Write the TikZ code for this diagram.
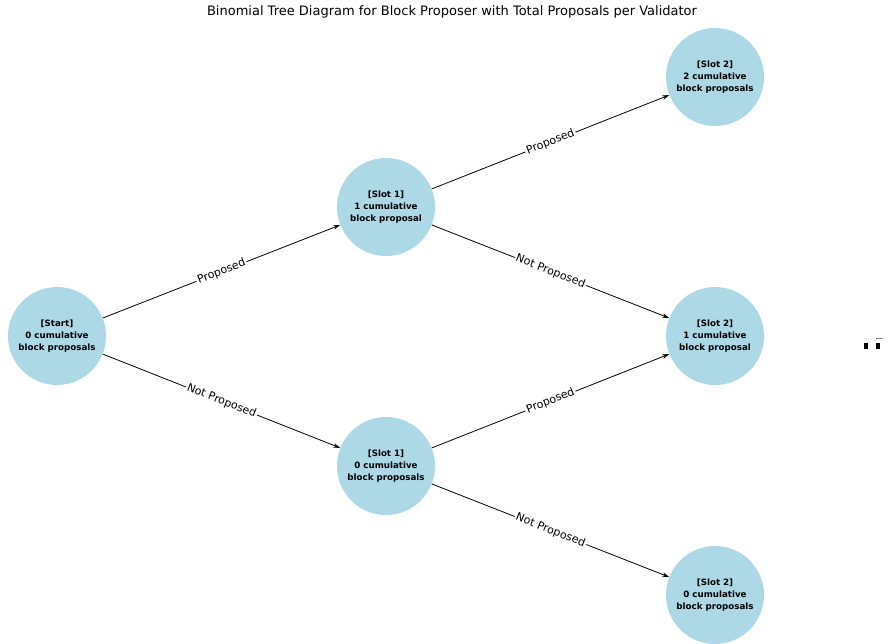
\documentclass[tikz,border=0pt]{standalone}
\usepackage{fontspec}
\setmainfont{DejaVu Sans}
\usetikzlibrary{arrows.meta}
\definecolor{nodeblue}{HTML}{ADD8E6}
\begin{document}
\begin{tikzpicture}[x=1pt,y=-1pt,
  state/.style={circle,fill=nodeblue,minimum size=98pt,inner sep=0pt,align=center,font=\bfseries\fontsize{8.7}{12}\selectfont},
  edge/.style={draw=black,line width=0.8pt,-{Stealth[length=7pt,width=4.5pt]}},
  elabel/.style={fill=white,inner sep=1.5pt,font=\fontsize{11}{13}\selectfont,sloped,midway}]
\useasboundingbox (0,0) rectangle (888,643);
\node[font=\fontsize{13}{15}\selectfont] (title) at (452,12) {Binomial Tree Diagram for Block Proposer with Total Proposals per Validator};
\node[state] (s0) at (57,336) {[Start]\\0 cumulative\\block proposals};
\node[state] (a1) at (386,207) {[Slot 1]\\1 cumulative\\block proposal};
\node[state] (b1) at (386,466) {[Slot 1]\\0 cumulative\\block proposals};
\node[state] (a2) at (715,77) {[Slot 2]\\2 cumulative\\block proposals};
\node[state] (b2) at (715,336) {[Slot 2]\\1 cumulative\\block proposal};
\node[state] (c2) at (715,595) {[Slot 2]\\0 cumulative\\block proposals};
\draw[edge] (s0) -- node[elabel] {Proposed} (a1);
\draw[edge] (s0) -- node[elabel] {Not Proposed} (b1);
\draw[edge] (a1) -- node[elabel] {Proposed} (a2);
\draw[edge] (a1) -- node[elabel] {Not Proposed} (b2);
\draw[edge] (b1) -- node[elabel] {Proposed} (b2);
\draw[edge] (b1) -- node[elabel] {Not Proposed} (c2);
\fill (864,343) rectangle (868,349);
\fill (876,343) rectangle (880,349);
\fill[gray] (876,338) rectangle (883,339);
\end{tikzpicture}
\end{document}
